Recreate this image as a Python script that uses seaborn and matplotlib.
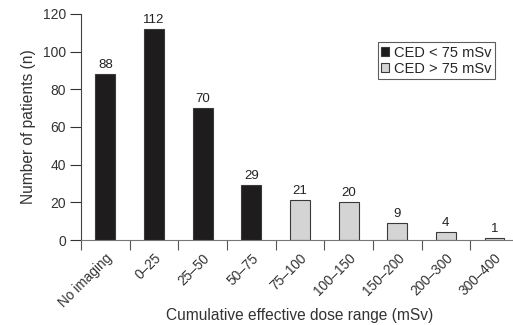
import matplotlib
matplotlib.use("Agg")
import matplotlib.pyplot as plt
import seaborn as sns
import pandas as pd
import numpy as np

categories = ["No imaging", "0\u201325", "25\u201350", "50\u201375", "75\u2013100",
              "100\u2013150", "150\u2013200", "200\u2013300", "300\u2013400"]
values = [88, 112, 70, 29, 21, 20, 9, 4, 1]
groups = ["CED < 75 mSv"] * 4 + ["CED > 75 mSv"] * 5
yticks = [0, 20, 40, 60, 80, 100, 120]

sns.set_style("ticks")
plt.rcParams['font.family'] = ['Liberation Sans', 'DejaVu Sans']

df = pd.DataFrame({"cat": categories, "val": values, "grp": groups})

fig = plt.figure(figsize=(5.13, 3.25), dpi=100)
ax = fig.add_axes([0.158, 0.2615, 0.842, 0.6955])

palette = {"CED < 75 mSv": "#1e1c1c", "CED > 75 mSv": "#d4d4d4"}
sns.barplot(data=df, x="cat", y="val", hue="grp", dodge=False, width=0.41,
            palette=palette, edgecolor="#3a3a3a", linewidth=0.8, ax=ax,
            saturation=1)

for i, v in enumerate(values):
    ax.text(i, v + 1.8, str(v), ha="center", va="bottom", fontsize=9.5, color="#222222")

ax.set_ylim(0, 120)
ax.set_xlim(-0.5, 8.38)
ax.set_yticks(yticks)
ax.tick_params(axis="y", length=8, width=0.8, labelsize=10, colors="#333333", pad=3)
ax.set_xticks(range(len(categories)))
ax.set_xticklabels(categories, rotation=45, ha="right", rotation_mode="anchor",
                   fontsize=9.8, color="#333333")
ax.tick_params(axis="x", length=0, pad=8)
ax.set_xticks(np.arange(-0.5, 8.5, 1.0), minor=True)
ax.tick_params(axis="x", which="minor", length=7, width=0.8, color="#555555")

for s in ["top", "right"]:
    ax.spines[s].set_visible(False)
ax.spines["left"].set_color("#444444")
ax.spines["bottom"].set_color("#777777")
ax.spines["left"].set_linewidth(0.8)
ax.spines["bottom"].set_linewidth(0.8)

ax.set_ylabel("Number of patients (n)", fontsize=11.2, color="#333333", labelpad=5)
ax.set_xlabel("")
fig.text(300 / 513, 2 / 325, "Cumulative effective dose range (mSv)", fontsize=11.2,
         color="#333333", ha="center", va="bottom")

leg = ax.legend(loc="upper right", bbox_to_anchor=(0.958, 0.876), fontsize=10.5,
                frameon=True, fancybox=False, edgecolor="#333333",
                handlelength=0.55, handleheight=0.55, handletextpad=0.3,
                borderpad=0.25, labelspacing=0.15, title=None, borderaxespad=0)
leg.get_frame().set_linewidth(0.8)

fig.savefig("out.png", dpi=100)
